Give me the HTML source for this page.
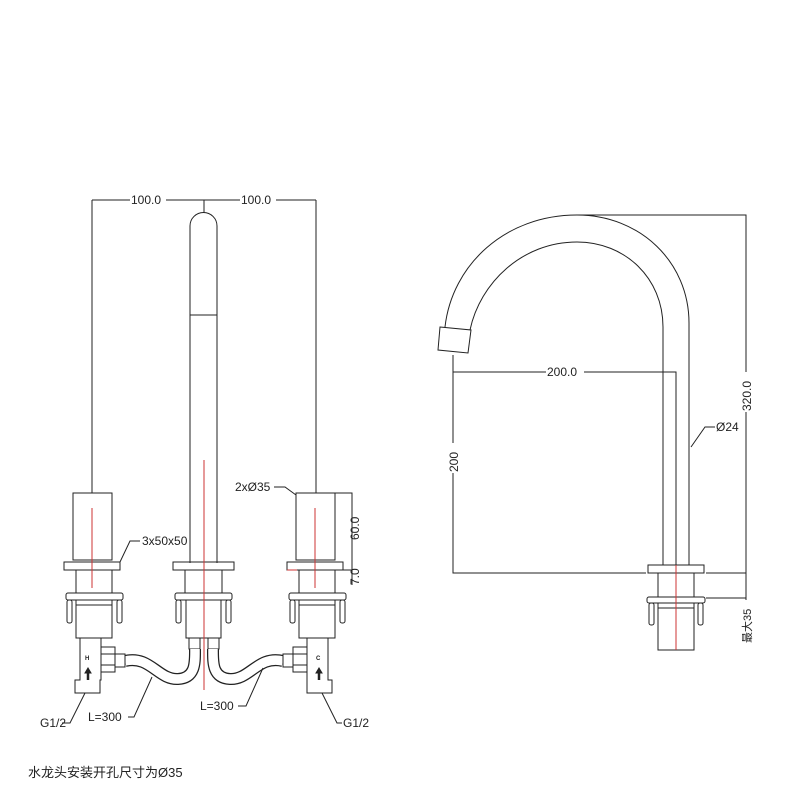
<!DOCTYPE html>
<html><head><meta charset="utf-8"><style>
body{margin:0;background:#fff}
svg{display:block}
text{font-family:"Liberation Sans",sans-serif;font-size:12px;fill:#222;stroke:none}
</style></head><body>
<svg width="800" height="800" viewBox="0 0 800 800" fill="none" stroke="#222" stroke-width="1">
<rect x="0" y="0" width="800" height="800" fill="#fff" stroke="none"/>
<path d="M92,200H316M92,200V493M316,200V493M204,200V213"/>
<rect x="130" y="194" width="36" height="12" fill="#fff" stroke="none"/>
<rect x="240" y="194" width="36" height="12" fill="#fff" stroke="none"/>
<text x="131" y="204">100.0</text><text x="241" y="204">100.0</text>
<path d="M190,563V226A13.5,13.5 0 0 1 217,226V563M190,315H217"/>
<g id="u">
<rect x="73" y="493" width="39" height="67"/>
<rect x="64" y="562" width="56" height="8"/>
<rect x="76" y="570" width="36" height="23"/>
<rect x="66" y="593" width="57" height="7" rx="2"/>
<rect x="67" y="600" width="5" height="23" rx="2"/>
<rect x="117" y="600" width="5" height="23" rx="2"/>
<rect x="76" y="600" width="36" height="38"/>
<path d="M76,605H112"/>
</g>
<use href="#u" transform="translate(223,0)"/>
<rect x="173" y="562" width="61" height="8"/>
<rect x="185" y="570" width="37" height="23"/>
<rect x="175" y="593" width="57" height="7" rx="2"/>
<rect x="176" y="600" width="5" height="23" rx="2"/>
<rect x="226" y="600" width="5" height="23" rx="2"/>
<rect x="186" y="600" width="35" height="38"/>
<rect x="189" y="638" width="11" height="11"/>
<rect x="208" y="638" width="11" height="11"/>
<g stroke-linecap="butt">
<path d="M125,661 C150,655 158,680 178,679 C196,678 195,662 195,649" stroke="#222" stroke-width="12"/>
<path d="M125,661 C150,655 158,680 178,679 C196,678 195,662 195,649" stroke="#fff" stroke-width="9.5"/>
<path d="M283,661 C258,655 250,680 230,679 C212,678 213,662 213,649" stroke="#222" stroke-width="12"/>
<path d="M283,661 C258,655 250,680 230,679 C212,678 213,662 213,649" stroke="#fff" stroke-width="9.5"/>
</g>
<path d="M80,638V680H75V693H100V680H101V638"/>
<rect x="101" y="647" width="14" height="25" fill="#fff"/><path d="M101,654H115M101,665H115"/>
<rect x="115" y="654" width="10" height="13" fill="#fff"/>
<text x="85" y="660" style="font-size:6px;font-weight:bold">H</text>
<path d="M88,680V672" stroke-width="2.5"/><path d="M85,673L88,668L91,673Z" fill="#222"/>
<path d="M307,638V680H307V693H332V680H328V638"/>
<rect x="293" y="647" width="14" height="25" fill="#fff"/><path d="M293,654H307M293,665H307"/>
<rect x="283" y="654" width="10" height="13" fill="#fff"/>
<text x="316" y="660" style="font-size:6px;font-weight:bold">C</text>
<path d="M319,680V672" stroke-width="2.5"/><path d="M316,673L319,668L322,673Z" fill="#222"/>
<g stroke="#c33">
<path d="M92,508V588M204,460V690M315,508V588M287,570H297"/>
</g>
<path d="M335,493H352V560M340,570H352M352,560V585"/>
<text transform="translate(359,540) rotate(-90)">60.0</text>
<text transform="translate(359,585) rotate(-90)">7.0</text>
<path d="M274,487H285L296,495"/><text x="235" y="491">2xØ35</text>
<path d="M120,562L130,541H140"/><text x="142" y="545">3x50x50</text>
<path d="M128,717H134L152,677"/><text x="88" y="721">L=300</text>
<path d="M238,706H246L263,668"/><text x="200" y="710">L=300</text>
<path d="M62,723H70L85,693"/><text x="40" y="727">G1/2</text>
<path d="M322,693L337,723H342"/><text x="343" y="727">G1/2</text>
<path d="M689,565V323C689,262 640,215 577,215C505,215 452,265 445,327"/>
<path d="M663,565V327C663,278 625,242 577,242C522,242 480,283 470,330"/>
<path d="M440,327L471,330L468,353L438,350Z"/>
<rect x="648" y="565" width="56" height="8"/>
<rect x="658" y="573" width="36" height="24"/>
<rect x="647" y="597" width="58" height="6" rx="2"/>
<rect x="649" y="603" width="5" height="22" rx="2"/>
<rect x="698" y="603" width="5" height="22" rx="2"/>
<rect x="658" y="603" width="36" height="47"/>
<path d="M658,608H694"/>
<path d="M676,565V650" stroke="#c33"/>
<path d="M453,355V573H646M706,573H746M453,372H676V565M577,215H746V640M706,598H746"/>
<rect x="546" y="366" width="38" height="12" fill="#fff" stroke="none"/>
<text x="547" y="376">200.0</text>
<rect x="447" y="443" width="12" height="30" fill="#fff" stroke="none"/>
<text transform="translate(458,472) rotate(-90)">200</text>
<rect x="740" y="372" width="12" height="40" fill="#fff" stroke="none"/>
<text transform="translate(751,411) rotate(-90)">320.0</text>
<rect x="740" y="600" width="12" height="42" fill="#fff" stroke="none"/>
<text transform="translate(751,643) rotate(-90)" style="font-family:'Liberation Sans','Noto Sans CJK SC',sans-serif;font-size:11px">最大35</text>
<path d="M691,447L705,427H715"/><text x="716" y="431">Ø24</text>
<text x="28" y="777" style="font-family:'Liberation Sans','Noto Sans CJK SC',sans-serif;font-size:13px">水龙头安装开孔尺寸为Ø35</text>
</svg>
</body></html>
